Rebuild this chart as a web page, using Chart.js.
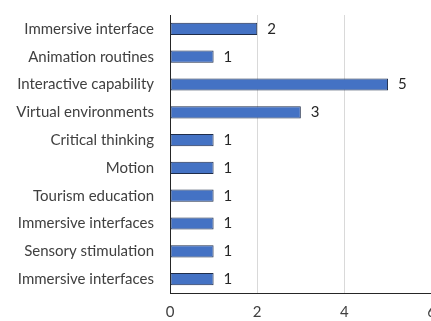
<!DOCTYPE html>
<html>
<head>
<meta charset="utf-8">
<script src="https://cdn.jsdelivr.net/npm/chart.js@4"></script>
<style>
  html, body { margin: 0; padding: 0; background: #fff; overflow: hidden; }
  canvas { display: block; }
</style>
</head>
<body>
<canvas id="myBarChart" width="446" height="321"></canvas>
<script>
// categories, top to bottom
let categories = [
    "Immersive interface",
    "Animation routines",
    "Interactive capability",
    "Virtual environments",
    "Critical thinking",
    "Motion",
    "Tourism education",
    "Immersive interfaces",
    "Sensory stimulation",
    "Immersive interfaces"
]
let counts = [2, 1, 5, 3, 1, 1, 1, 1, 1, 1]
let xTicks = [0, 2, 4, 6]

let labelFont = { family: "Lato, 'Open Sans', sans-serif", size: 15 }

// writes the value just past the end of each bar
let valueLabels = {
    id: "valueLabels",
    afterDatasetsDraw(chart) {
        let ctx = chart.ctx
        ctx.save()
        ctx.font = "15px Lato, 'Open Sans', sans-serif"
        ctx.fillStyle = "#262626"
        ctx.textBaseline = "middle"
        ctx.textAlign = "left"
        chart.getDatasetMeta(0).data.forEach(function (bar, i) {
            ctx.fillText(String(counts[i]), bar.x + 10, bar.y)
        })
        ctx.restore()
    }
}

let ctx = document.getElementById('myBarChart').getContext('2d')
let chart = new Chart(ctx, {
    type: 'bar',
    data: {
        labels: categories,
        datasets: [{
            data: counts,
            backgroundColor: '#4472c4',
            borderColor: '#1f2d4a',
            borderWidth: 1,
            borderSkipped: false,
            barPercentage: 0.44,
            categoryPercentage: 1
        }]
    },
    options: {
        indexAxis: 'y',
        responsive: false,
        animation: false,
        layout: { padding: { top: 15, bottom: 0, left: 0, right: 0 } },
        plugins: {
            legend: { display: false },
            tooltip: { enabled: false }
        },
        scales: {
            x: {
                min: 0,
                max: 6,
                afterBuildTicks(scale) {
                    scale.ticks = xTicks.map(v => ({ value: v }))
                },
                afterFit(scale) { scale.height = 28 },
                grid: { color: '#d9d9d9', drawTicks: false },
                border: { display: true, color: '#262626', width: 1 },
                ticks: { color: '#404040', font: labelFont, padding: 10, maxRotation: 0 }
            },
            y: {
                grid: { display: false, drawTicks: false },
                border: { display: true, color: '#262626', width: 1 },
                ticks: { color: '#404040', font: labelFont, padding: 16 },
                afterFit(scale) {
                    scale.width = 170
                    scale.paddingTop = 0
                    scale.paddingBottom = 0
                }
            }
        }
    },
    plugins: [valueLabels]
})
</script>
</body>
</html>
